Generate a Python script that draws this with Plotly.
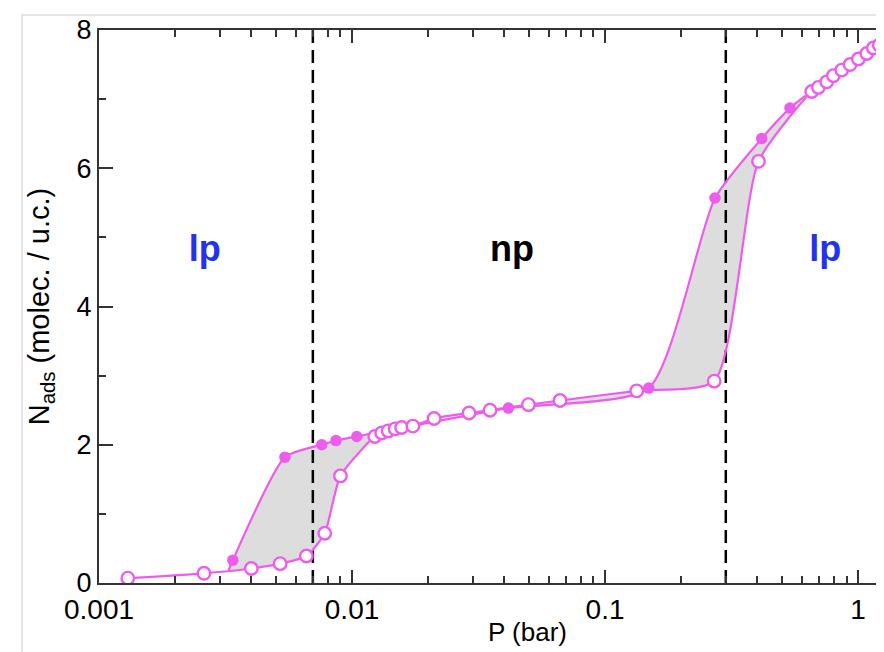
import plotly.graph_objects as go

# Adsorption branch (open circles)
P_ads = [0.0013, 0.0026, 0.0040, 0.0052, 0.0066, 0.0078, 0.0090, 0.0123, 0.0131, 0.0139,
         0.0148, 0.0157, 0.0174, 0.0211, 0.0290, 0.0351, 0.0498, 0.0664, 0.1334, 0.270,
         0.404, 0.656, 0.697, 0.752, 0.799, 0.862, 0.930, 1.003, 1.082, 1.149, 1.213, 1.28]
N_ads = [0.07, 0.14, 0.21, 0.28, 0.39, 0.72, 1.55, 2.12, 2.17, 2.20,
         2.23, 2.25, 2.27, 2.38, 2.46, 2.50, 2.58, 2.64, 2.78, 2.92,
         6.10, 7.11, 7.17, 7.25, 7.34, 7.42, 7.50, 7.58, 7.66, 7.74, 7.78, 7.82]

# Desorption branch (filled circles)
P_des = [0.538, 0.416, 0.272, 0.1488, 0.0415, 0.01044, 0.00864, 0.00759, 0.00543, 0.00338]
N_des = [6.87, 6.43, 5.57, 2.82, 2.53, 2.12, 2.06, 2.00, 1.82, 0.33]

# where the desorption line meets the adsorption curve
P_des_ends = [0.62, 0.00325]
N_des_ends = [7.05, 0.18]

# phase boundaries
P_boundaries = [0.007, 0.3]

# region labels
label_text = ["lp", "np", "lp"]
label_P = [0.00262, 0.0429, 0.741]
label_N = [4.79, 4.79, 4.79]
label_color = ["#2233EE", "#000000", "#2233EE"]

x_tickvals = [0.001, 0.01, 0.1, 1]
x_ticktext = ["0.001", "0.01", "0.1", "1"]
x_minor = [m * d for d in [0.001, 0.01, 0.1, 1] for m in range(2, 10)]

MAG = "#EE5CEE"
SPL = dict(shape="spline", smoothing=0.6)

fig = go.Figure()

# hysteresis loop fills: lower (adsorption) boundary then upper (desorption) boundary
loop1_lo_x = [P_des_ends[1]] + P_ads[2:8]
loop1_lo_y = [N_des_ends[1]] + N_ads[2:8]
loop1_hi_x = [P_des_ends[1]] + P_des[5:][::-1] + [P_ads[7]]
loop1_hi_y = [N_des_ends[1]] + N_des[5:][::-1] + [N_ads[7]]
loop2_lo_x = [P_des[4]] + P_ads[16:22]
loop2_lo_y = [N_des[4]] + N_ads[16:22]
loop2_hi_x = P_des[0:5][::-1] + [P_des_ends[0]] + [P_ads[21]]
loop2_hi_y = N_des[0:5][::-1] + [N_des_ends[0]] + [N_ads[21]]
for lo_x, lo_y, hi_x, hi_y in [(loop1_lo_x, loop1_lo_y, loop1_hi_x, loop1_hi_y),
                               (loop2_lo_x, loop2_lo_y, loop2_hi_x, loop2_hi_y)]:
    fig.add_trace(go.Scatter(x=lo_x, y=lo_y, mode="lines", line=dict(width=0, **SPL),
                             hoverinfo="skip", showlegend=False))
    fig.add_trace(go.Scatter(x=hi_x, y=hi_y, mode="lines", fill="tonexty",
                             fillcolor="#DDDDDD", line=dict(width=0, **SPL),
                             hoverinfo="skip", showlegend=False))

# dashed phase boundaries
for pb in P_boundaries:
    fig.add_trace(go.Scatter(x=[pb, pb], y=[0, 8], mode="lines",
                             line=dict(color="black", width=2.5, dash="13px,7px"),
                             showlegend=False))

# desorption line
fig.add_trace(go.Scatter(x=[P_des_ends[0]] + P_des + [P_des_ends[1]],
                         y=[N_des_ends[0]] + N_des + [N_des_ends[1]],
                         mode="lines", line=dict(color=MAG, width=2.2, **SPL),
                         showlegend=False))
# adsorption line + open markers
fig.add_trace(go.Scatter(x=P_ads, y=N_ads, mode="lines+markers",
                         line=dict(color=MAG, width=2.2, **SPL),
                         marker=dict(size=12.5, color="white", line=dict(color=MAG, width=2.4)),
                         showlegend=False))
# desorption filled markers
fig.add_trace(go.Scatter(x=P_des, y=N_des, mode="markers",
                         marker=dict(size=11.5, color=MAG, line=dict(width=0)),
                         showlegend=False))

# region labels
fig.add_trace(go.Scatter(x=label_P, y=label_N, mode="text", text=label_text,
                         textfont=dict(size=36, color=label_color,
                                       family="Liberation Sans", weight="bold"),
                         showlegend=False))

fig.update_layout(
    width=884, height=652,
    margin=dict(l=91, r=0, t=22, b=77),
    paper_bgcolor="white", plot_bgcolor="white",
    font=dict(family="Liberation Sans", color="black"),
    xaxis=dict(type="log", range=[-3, 0.134], automargin=False,
               tickvals=x_tickvals, ticktext=x_ticktext,
               ticks="inside", ticklen=13, tickwidth=2, tickcolor="#333",
               minor=dict(tickvals=x_minor, ticks="inside", ticklen=7, tickwidth=1.5, tickcolor="#333"),
               showline=True, linecolor="#333", linewidth=2, mirror="ticks",
               showgrid=False, zeroline=False,
               tickfont=dict(size=28)),
    yaxis=dict(range=[0, 8], tickvals=[0, 2, 4, 6, 8], automargin=False,
               ticks="inside", ticklen=14, tickwidth=2, tickcolor="#333",
               minor=dict(dtick=1, ticks="inside", ticklen=7, tickwidth=1.5, tickcolor="#333"),
               showline=True, linecolor="#333", linewidth=2,
               showgrid=False, zeroline=False,
               tickfont=dict(size=27),
               title=dict(text="N<sub>ads</sub> (molec. / u.c.)", font=dict(size=29), standoff=18)),
    annotations=[dict(text="P (bar)", xref="paper", yref="paper", x=0.54, y=-0.088,
                      xanchor="center", yanchor="middle", showarrow=False,
                      font=dict(size=26, color="black"))],
    shapes=[dict(type="rect", xref="paper", yref="paper",
                 x0=-0.0971, x1=1.2, y0=-0.3, y1=1.027,
                 line=dict(color="#DDDDDD", width=1.5), fillcolor="rgba(0,0,0,0)", layer="below")],
)

fig.write_html("out.html")
